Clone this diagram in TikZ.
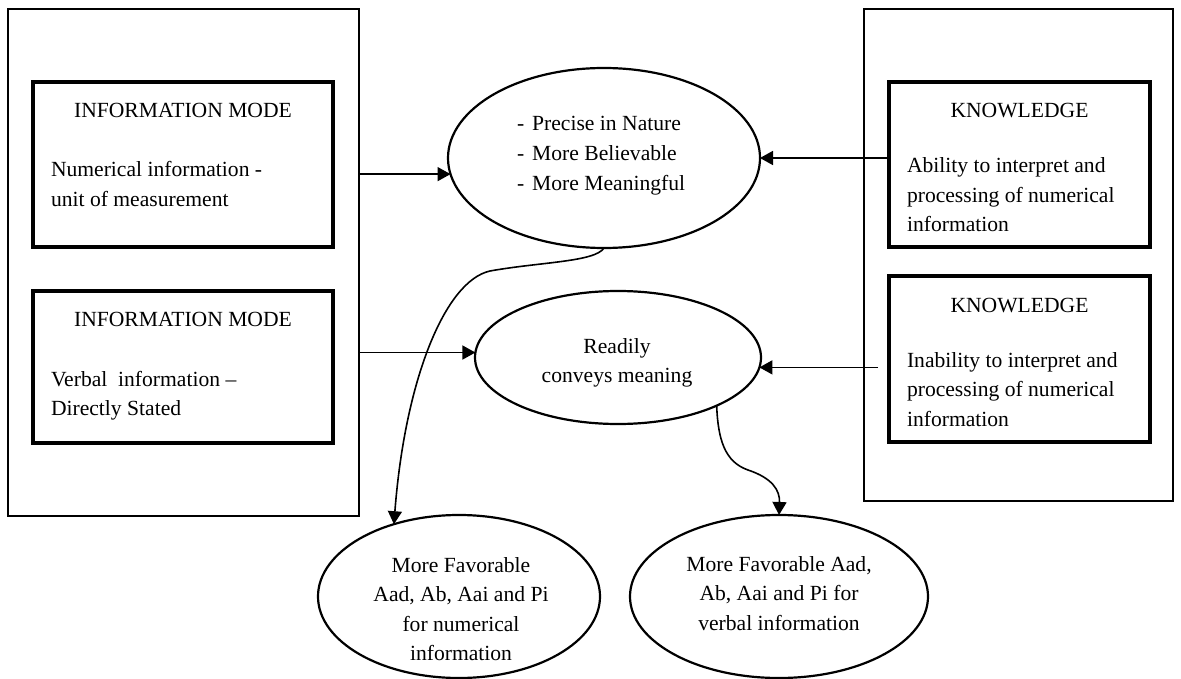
\documentclass[tikz,border=0pt]{standalone}
\usepackage{fontspec}
\setmainfont{Liberation Serif}
\usetikzlibrary{arrows.meta,shapes.geometric}

% stacked lines with a fixed baseline at the first row
\newcommand{\linesl}[1]{\begin{tabular}[t]{@{}l@{}}#1\end{tabular}}
\newcommand{\linesc}[1]{\begin{tabular}[t]{@{}c@{}}#1\end{tabular}}

\begin{document}
\begin{tikzpicture}[x=1pt,y=-1pt,
  every node/.style={inner sep=0pt, outer sep=0pt},
  txt/.style={font=\fontsize{21.6}{29.3}\selectfont},
  groupbox/.style={draw, line width=1.5pt},
  panelbox/.style={draw, line width=3.5pt},
  bubble/.style={draw, ellipse, line width=2.2pt},
  arrowline/.style={line width=1.6pt, -{Triangle[length=13pt,width=14pt]}},
]
\useasboundingbox (0,0) rectangle (1181,679);

% outer group frames
\node[groupbox, minimum width=351pt, minimum height=507pt] (leftgroup) at (183.5,262.5) {};
\node[groupbox, minimum width=309pt, minimum height=492pt] (rightgroup) at (1018.5,255) {};

% information mode panels
\node[panelbox, minimum width=300pt, minimum height=165pt] (im1) at (183,164.5) {};
\node[panelbox, minimum width=300pt, minimum height=152pt] (im2) at (183,367) {};
\node[txt, anchor=base] (im1title) at (183,118) {INFORMATION MODE};
\node[txt, anchor=base west] (im1text) at (51,177) {\linesl{Numerical information -\\unit of measurement}};
\node[txt, anchor=base] (im2title) at (183,326) {INFORMATION MODE};
\node[txt, anchor=base west] (im2text) at (51,386) {\linesl{Verbal\ \ information --\\Directly Stated}};

% knowledge panels
\node[panelbox, minimum width=261pt, minimum height=165pt] (k1) at (1019.5,164.5) {};
\node[panelbox, minimum width=261pt, minimum height=166pt] (k2) at (1019.5,359) {};
\node[txt, anchor=base] (k1title) at (1019.5,118) {KNOWLEDGE};
\node[txt, anchor=base west, font=\fontsize{21.6}{29.5}\selectfont] (k1text) at (907,173) {\linesl{Ability to interpret and\\processing of numerical\\information}};
\node[txt, anchor=base] (k2title) at (1019.5,312) {KNOWLEDGE};
\node[txt, anchor=base west, font=\fontsize{21.6}{29.5}\selectfont] (k2text) at (907,367) {\linesl{Inability to interpret and\\processing of numerical\\information}};

% outcome ellipses
\node[bubble, minimum width=312pt, minimum height=180pt] (e1) at (604,158) {};
\node[bubble, minimum width=286pt, minimum height=133pt] (e2) at (618,357.5) {};
\node[bubble, minimum width=282pt, minimum height=163pt] (e3) at (459,596.5) {};
\node[bubble, minimum width=298pt, minimum height=163pt] (e4) at (779,596.5) {};

\node[txt, anchor=base west, font=\fontsize{21.6}{30}\selectfont] (e1text) at (517,131)
  {\begin{tabular}[t]{@{}l@{\hspace{8pt}}l@{}}- & Precise in Nature\\- & More Believable\\- & More Meaningful\end{tabular}};
\node[txt, anchor=base, font=\fontsize{21.6}{29.5}\selectfont] (e2text) at (617,353) {\linesc{Readily\\conveys meaning}};
\node[txt, anchor=base] (e3text) at (461,572.5) {\linesc{More Favorable\\Aad, Ab, Aai and Pi\\for numerical\\information}};
\node[txt, anchor=base] (e4text) at (779,571.5) {\linesc{More Favorable Aad,\\Ab, Aai and Pi for\\verbal information}};

% connectors
\coordinate (k2gap) at (878,368);
\draw[arrowline] (e1.186 -| leftgroup.east) -- (e1.186);
\draw[arrowline] (k1.west |- e1.east) -- (e1.east);
\draw[arrowline] (e2.178 -| leftgroup.east) -- (e2.178);
\draw[arrowline] (e2.356 -| k2gap) -- (e2.356);

\draw[arrowline] (e1.south) .. controls (595,262) and (540,262) .. (490,271)
  .. controls (445,281) and (405,380) .. (e3.132);
\draw[arrowline] (e2.-26) .. controls (718,440) and (725,462) .. (748,470)
  .. controls (772,478) and (780,490) .. (e4.north);
\end{tikzpicture}
\end{document}
